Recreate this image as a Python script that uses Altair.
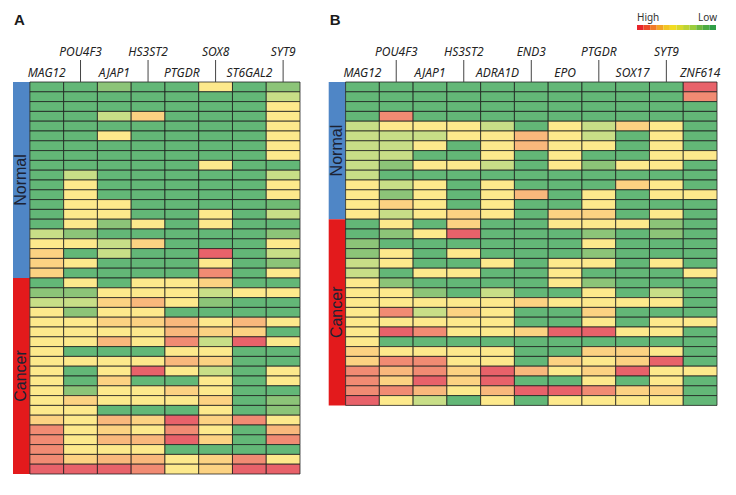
import altair as alt
import pandas as pd

# expression levels as category codes (green = low ... red = high)
level_codes = ["G", "G2", "LG", "LYG", "Y", "LO", "O", "S", "R"]
level_colors = ["#63b777", "#6fba74", "#8cc478", "#c8de87", "#fde98c", "#fcd282",
                "#f9b87c", "#f18b73", "#e8626a"]
G, G2, LG, LYG, Y, LO, O, S, R = level_codes

genes_a = ["MAG12", "POU4F3", "AJAP1", "HS3ST2", "PTGDR", "SOX8", "ST6GAL2", "SYT9"]
genes_b = ["MAG12", "POU4F3", "AJAP1", "HS3ST2", "ADRA1D", "END3", "EPO",
           "PTGDR", "SOX17", "SYT9", "ZNF614"]

a_normal = [
    [G, G, LG, G, G, Y, G, LG],
    [G, G, G, G, G, G, G, LYG],
    [G, G, G, G, G, G, G, Y],
    [G, G, LYG, LO, G, G, G, Y],
    [G, G, G, G, G, G, G, Y],
    [G, G, Y, G, G, G, G, Y],
    [G, G, G, G, G, G, G, Y],
    [G, G, G, G, G, G, G, Y],
    [G, G, G, G, G, Y, G, G],
    [G, LYG, G, G, G, G, G, LYG],
    [G, Y, G, G, G, G, G, Y],
    [G, Y, G, G, G, G, G, Y],
    [G, Y, Y, G, G, G, G, G2],
    [G, Y, Y, G, G, Y, G, LYG],
    [G, Y, LG, Y, G, Y, G, G],
    [LYG, LG, G, G, G, G, G, LG],
    [Y, Y, LYG, LO, G, G, G, Y],
    [LO, G, LYG, G, G, R, G, LYG],
    [LO, Y, G, G, G, Y, G, LG],
    [LO, G, G, G, G, S, G, Y],
]

a_cancer = [
    [G, Y, G, Y, Y, LO, G, G],
    [LG, LG, Y, Y, Y, LYG, Y, Y],
    [LYG, LYG, LO, O, Y, LG, G, G],
    [Y, LG, Y, Y, G, G, G, G],
    [Y, Y, LO, LO, O, Y, O, Y],
    [Y, Y, Y, Y, O, LO, LO, G],
    [Y, Y, O, Y, S, LYG, R, Y],
    [Y, G, G, G, Y, Y, G, G],
    [Y, Y, Y, Y, O, LO, G, G],
    [Y, G, Y, R, Y, LYG, G, Y],
    [Y, G, LO, G, G, Y, G, Y],
    [Y, LG, Y, Y, LO, Y, G, G],
    [Y, LO, Y, Y, Y, LO, G, LG],
    [Y, Y, G, G, G, Y, G, LG],
    [LO, Y, O, LO, R, LO, S, Y],
    [S, Y, LO, Y, S, Y, G, O],
    [S, Y, O, O, R, LO, G, S],
    [S, Y, Y, Y, G, G, G, G],
    [S, LO, O, O, Y, LO, S, Y],
    [R, R, R, S, Y, LO, R, R],
]

b_normal = [
    [G, G, G, G, G, G, G, G, G, G, R],
    [G, G, G, G, G, G, G, G, G, G, S],
    [G, G, G, G, G, G, G, G, G, G, G],
    [G, S, G, G, G, G, G, G, G, G, G],
    [LYG, Y, Y, Y, LYG, G, Y, LYG, LO, Y, G],
    [LYG, LYG, LYG, Y, Y, O, Y, LYG, G, Y, G],
    [LYG, LYG, Y, G, Y, O, Y, Y, G, Y, G],
    [LYG, LYG, G, G, Y, G, Y, G, G, Y, Y],
    [LYG, LG, Y, Y, LYG, G, Y, LG, Y, Y, G],
    [LYG, G, G, G, G, G, G, G, G, G, G],
    [Y, LYG, Y, G, Y, G, G, G, LO, Y, G],
    [Y, LG, Y, G, Y, O, G, Y, G, Y, Y],
    [Y, LO, Y, G, Y, G, G, Y, G, G, G],
    [Y, LYG, Y, LO, Y, G, LO, LO, G, Y, G],
]

b_cancer = [
    [G, Y, G, LO, G, G, Y, Y, Y, LG, G],
    [G, LG, Y, R, G, G, G, LG, G, LG, G],
    [LG, G, G, G, G, G, G, Y, G, G, G],
    [LG, Y, G, Y, G, G, G, LG, G, G, G],
    [LYG, Y, G, G, Y, G, Y, Y, G, Y, G],
    [LYG, G, Y, Y, G, G, Y, G, G, G, Y],
    [Y, LG, G, G, G, G, Y, LG, G, G, G],
    [Y, Y, LG, G, LYG, G, G, Y, G, LYG, G],
    [Y, Y, Y, Y, Y, LO, Y, Y, Y, Y, G],
    [Y, S, LYG, LO, Y, G, G, LO, G, G, G],
    [Y, Y, Y, Y, Y, G, G, Y, G, Y, Y],
    [Y, R, S, Y, Y, LO, R, R, Y, Y, G],
    [Y, G, G, G, G, G, G, G, G, G, G],
    [LO, Y, Y, Y, Y, G, G, LO, LO, Y, G],
    [LO, S, S, Y, Y, G, LO, Y, LO, R, G],
    [S, O, S, LO, R, O, Y, LO, R, Y, Y],
    [S, LO, R, LO, R, G, G, Y, G, Y, G],
    [S, S, O, Y, O, R, R, S, LO, LO, G],
    [R, Y, LYG, G, Y, G, Y, Y, Y, Y, G],
]

panel_letters = ["A", "B"]
groups = ["Normal", "Cancer"]
group_colors = ["#4f86c6", "#e31a1c"]
# legend bar (High -> Low) drawn as colour steps
legend_steps = ["#e8262b", "#ec4a2a", "#f07a28", "#f3a426", "#f2c524", "#f2dc22",
                "#d8d92b", "#bcd334", "#9ccd3c", "#6fb840", "#4cab44", "#2f9e47"]
legend_labels = ["High", "Low"]

FONT = "Noto Sans"

# layout in column / row units
SIDE = 0.5
GAP = 0.85
offsets = [0.0, len(genes_a) + GAP + SIDE]
XMAX = offsets[1] + len(genes_b)
W, H = 704, 392
ROWS = 40
RU = H / ROWS  # pixels per row unit (for header placement)

step_codes = ["L%d" % i for i in range(len(legend_steps))]
color_domain = level_codes + groups + step_codes
color_range = level_colors + group_colors + legend_steps

panels = [(genes_a, a_normal, a_cancer), (genes_b, b_normal, b_cancer)]

cell_recs, side_recs, top_recs, bot_recs, title_recs = [], [], [], [], []
for p, (genes, normal, cancer) in enumerate(panels):
    off = offsets[p]
    for r, vals in enumerate(normal + cancer):
        for c, v in enumerate(vals):
            cell_recs.append({"gene": genes[c], "c": off + c, "c2": off + c + 1,
                              "r": r, "r2": r + 1, "lvl": v})
    counts = [len(normal), len(cancer)]
    starts = [0, len(normal)]
    for g, name in enumerate(groups):
        side_recs.append({"group": name, "x0": off - SIDE, "x1": off,
                          "xm": off - SIDE / 2, "r": starts[g],
                          "r2": starts[g] + counts[g],
                          "mid": starts[g] + counts[g] / 2})
    for i, gname in enumerate(genes):
        rec = {"gene": gname, "xc": off + i + 0.5}
        if i % 2 == 0:
            rec["ty"] = -5 / RU
            bot_recs.append(rec)
        else:
            rec["ty"] = -26 / RU
            rec["t0"] = -22 / RU
            rec["t1"] = 0.0
            top_recs.append(rec)
    title_recs.append({"label": panel_letters[p], "xt": off - SIDE + 0.03,
                       "ty": -57 / RU})

# legend geometry (column / row units)
LEG_W = 2.34
LEG_X0 = XMAX - LEG_W - 0.03
n_steps = len(legend_steps)
leg_recs = [{"code": step_codes[i],
             "x0": LEG_X0 + LEG_W * i / n_steps,
             "x1": LEG_X0 + LEG_W * (i + 1) / n_steps,
             "y0": -57 / RU, "y1": -52 / RU} for i in range(n_steps)]
legtxt_l = [{"label": legend_labels[0], "x": LEG_X0, "ty": -61 / RU}]
legtxt_r = [{"label": legend_labels[1], "x": XMAX, "ty": -61 / RU}]

cells = pd.DataFrame(cell_recs)
sides = pd.DataFrame(side_recs)
top_df = pd.DataFrame(top_recs)
bot_df = pd.DataFrame(bot_recs)
title_df = pd.DataFrame(title_recs)
leg_df = pd.DataFrame(leg_recs)
legl_df = pd.DataFrame(legtxt_l)
legr_df = pd.DataFrame(legtxt_r)

xs = alt.Scale(domain=[-SIDE, XMAX], nice=False, zero=False)
ys = alt.Scale(domain=[0, ROWS], reverse=True, nice=False, zero=False)
cs = alt.Scale(domain=color_domain, range=color_range)

heat = alt.Chart(cells).mark_rect(
    stroke="#1a1a1a", strokeWidth=1, strokeOpacity=0.75
).encode(
    x=alt.X("c:Q", scale=xs, axis=None), x2="c2:Q",
    y=alt.Y("r:Q", scale=ys, axis=None), y2="r2:Q",
    color=alt.Color("lvl:N", scale=cs, legend=None),
)

side = alt.Chart(sides).mark_rect().encode(
    x=alt.X("x0:Q", scale=xs, axis=None), x2="x1:Q",
    y=alt.Y("r:Q", scale=ys, axis=None), y2="r2:Q",
    color=alt.Color("group:N", scale=cs, legend=None),
)

side_text = alt.Chart(sides).mark_text(
    angle=270, fontSize=16, font="Liberation Sans", color="#1c2233",
    align="center", baseline="middle"
).encode(x=alt.X("xm:Q", scale=xs, axis=None), y=alt.Y("mid:Q", scale=ys, axis=None),
         text="group:N")

top_lab = alt.Chart(top_df).mark_text(
    fontSize=12, fontStyle="italic", font=FONT, color="#222", baseline="alphabetic"
).encode(x=alt.X("xc:Q", scale=xs, axis=None), y=alt.Y("ty:Q", scale=ys, axis=None),
         text="gene:N")

bot_lab = alt.Chart(bot_df).mark_text(
    fontSize=12, fontStyle="italic", font=FONT, color="#222", baseline="alphabetic"
).encode(x=alt.X("xc:Q", scale=xs, axis=None), y=alt.Y("ty:Q", scale=ys, axis=None),
         text="gene:N")

ticks = alt.Chart(top_df).mark_rule(color="#444", strokeWidth=1).encode(
    x=alt.X("xc:Q", scale=xs, axis=None),
    y=alt.Y("t0:Q", scale=ys, axis=None), y2="t1:Q",
)

titles = alt.Chart(title_df).mark_text(
    fontSize=15, fontWeight="bold", font="Liberation Sans", color="#1a1a1a",
    align="left", baseline="alphabetic"
).encode(x=alt.X("xt:Q", scale=xs, axis=None), y=alt.Y("ty:Q", scale=ys, axis=None),
         text="label:N")

leg_bar = alt.Chart(leg_df).mark_rect().encode(
    x=alt.X("x0:Q", scale=xs, axis=None), x2="x1:Q",
    y=alt.Y("y0:Q", scale=ys, axis=None), y2="y1:Q",
    color=alt.Color("code:N", scale=cs, legend=None),
)

high = alt.Chart(legl_df).mark_text(
    fontSize=10, font=FONT, color="#333", align="left", baseline="alphabetic"
).encode(x=alt.X("x:Q", scale=xs, axis=None), y=alt.Y("ty:Q", scale=ys, axis=None),
         text="label:N")

low = alt.Chart(legr_df).mark_text(
    fontSize=10, font=FONT, color="#333", align="right", baseline="alphabetic"
).encode(x=alt.X("x:Q", scale=xs, axis=None), y=alt.Y("ty:Q", scale=ys, axis=None),
         text="label:N")

chart = alt.layer(
    side, heat, side_text, ticks, top_lab, bot_lab, titles, leg_bar, high, low
).properties(width=W, height=H).configure_view(strokeWidth=0)

chart.save("out.html", embed_options={"renderer": "svg", "actions": False})
